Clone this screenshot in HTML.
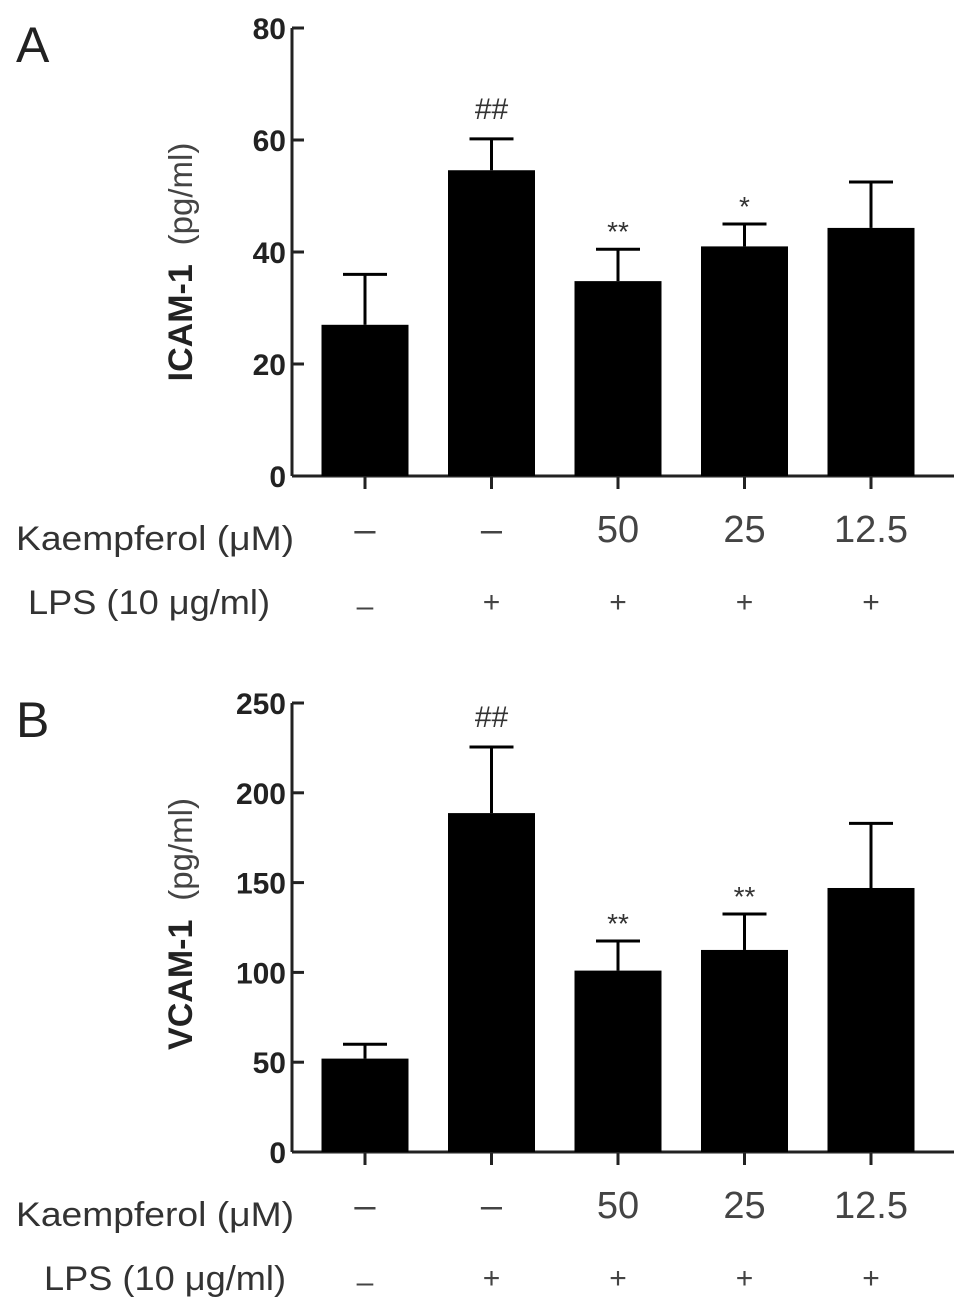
<!DOCTYPE html>
<html><head><meta charset="utf-8"><style>
html,body{margin:0;padding:0;background:#fff}
svg{display:block}
text{font-family:"Liberation Sans",Arial,sans-serif}
</style></head><body>
<svg id="chart" width="969" height="1309" viewBox="0 0 969 1309" xmlns="http://www.w3.org/2000/svg"></svg>
<script>
const groups = ["g1","g2","g3","g4","g5"];
const kaempferolLabels = ["\u2013","\u2013","50","25","12.5"];
const lpsLabels = ["\u2013","+","+","+","+"];
const icamValues = [27, 54.6, 34.8, 41, 44.3];
const icamErrors = [9, 5.6, 5.7, 4, 8.2];
const icamMarks = ["", "##", "**", "*", ""];
const icamTicks = [0, 20, 40, 60, 80];
const vcamValues = [52, 188.7, 101, 112.5, 147];
const vcamErrors = [8, 36.8, 16.5, 20, 36];
const vcamMarks = ["", "##", "**", "**", ""];
const vcamTicks = [0, 50, 100, 150, 200, 250];

const svg = document.getElementById('chart');
const NS = "http://www.w3.org/2000/svg";
function mk(tag, attrs, txt){
  const e = document.createElementNS(NS, tag);
  for (const k in attrs) e.setAttribute(k, attrs[k]);
  if (txt !== undefined) e.textContent = txt;
  svg.appendChild(e);
  return e;
}
function panel(opt){
  const x0 = 292, xEnd = 954, yTop = opt.yTop, yBase = opt.yBase, maxV = opt.max;
  const yS = v => yBase - v/maxV*(yBase-yTop);
  const xC = i => 365 + i*126.5;
  const bw = 87;
  let e;
  e = mk('text',{x:16,y:opt.yTop+34,'font-size':50,fill:'#222'},opt.letter);
  
  
  e = mk('line',{x1:x0,y1:yTop,x2:x0,y2:yBase,stroke:'#222','stroke-width':3});
  
  
  e = mk('line',{x1:x0,y1:yBase,x2:xEnd,y2:yBase,stroke:'#222','stroke-width':3});
  
  
  opt.ticks.forEach(t=>{
    const y = yS(t);
    let l = mk('line',{x1:x0,y1:y,x2:x0+12,y2:y,stroke:'#222','stroke-width':3});
    
    
    let tx = mk('text',{x:x0-6,y:y+11,'font-size':30,'font-weight':'bold','text-anchor':'end',fill:'#222'},String(t));
    
    
  });
  e = mk('text',{x:0,y:0,'font-size':34,fill:'#222',transform:`translate(192,${opt.titleC}) rotate(-90)`,'text-anchor':'middle'});
  
  
  const t1 = document.createElementNS(NS,'tspan'); t1.setAttribute('font-weight','bold'); t1.textContent = opt.title+'\u00a0\u00a0';
  const t2 = document.createElementNS(NS,'tspan'); t2.setAttribute('font-size','33'); t2.setAttribute('fill','#444'); t2.textContent = '(pg/ml)';
  e.appendChild(t1); e.appendChild(t2);
  groups.forEach((g,i)=>{
    const v = opt.values[i], er = opt.errors[i], cx = xC(i);
    const yt = yS(v), ye = yS(v+er);
    let b = mk('rect',{x:cx-bw/2,y:yt,width:bw,height:yBase-yt,fill:'#000'});
    
    
    let el = mk('line',{x1:cx,y1:yt,x2:cx,y2:ye,stroke:'#000','stroke-width':3});
    
    
    let ec = mk('line',{x1:cx-22,y1:ye,x2:cx+22,y2:ye,stroke:'#000','stroke-width':3});
    
    
    if (opt.marks[i]) {
      const isHash = opt.marks[i][0]==='#';
      let m = mk('text',{x:cx,y:ye-(isHash?20:8),'font-size':isHash?30:28,'text-anchor':'middle',fill:'#333'},opt.marks[i]);
      
      
    }
    let tk = mk('line',{x1:cx,y1:yBase,x2:cx,y2:yBase+13,stroke:'#222','stroke-width':3});
    
    
    let k = mk('text',{x:cx,y:yBase+66,'font-size':38,'text-anchor':'middle',fill:'#444'},kaempferolLabels[i]);
    
    
    let p = mk('text',{x:cx,y:yBase+(i===0?140:136),'font-size':30,'text-anchor':'middle',fill:'#444'},lpsLabels[i]);
    
    
  });
  e = mk('text',{x:16,y:yBase+74,'font-size':34,fill:'#333',textLength:278,lengthAdjust:'spacingAndGlyphs'},'Kaempferol (\u03bcM)');
  
  
  e = mk('text',{x:opt.lpsX,y:yBase+138,'font-size':34,fill:'#333',textLength:242,lengthAdjust:'spacingAndGlyphs'},'LPS (10 \u03bcg/ml)');
  
  
}
panel({id:'icam',letter:'A',yTop:28,yBase:476,max:80,ticks:icamTicks,values:icamValues,errors:icamErrors,marks:icamMarks,title:'ICAM-1',lpsX:28,titleC:262});
panel({id:'vcam',letter:'B',yTop:703,yBase:1152,max:250,ticks:vcamTicks,values:vcamValues,errors:vcamErrors,marks:vcamMarks,title:'VCAM-1',lpsX:44,titleC:924});
</script>
</body></html>
